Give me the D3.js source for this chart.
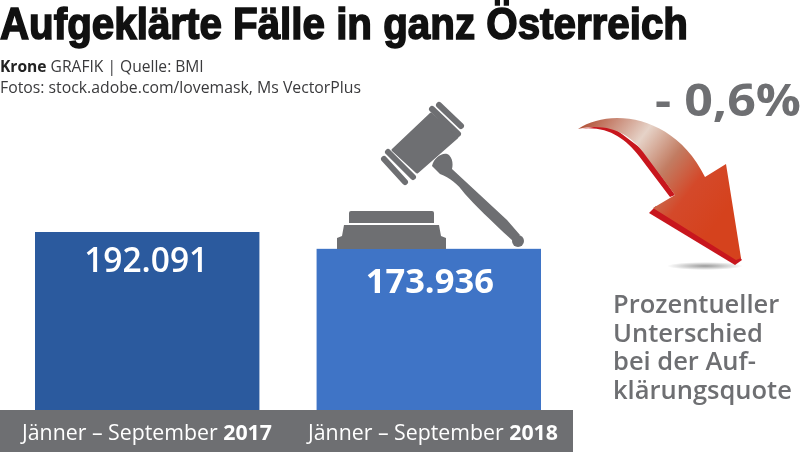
<!DOCTYPE html>
<html>
<head>
<meta charset="utf-8">
<script src="https://cdn.jsdelivr.net/npm/d3@7"></script>
<style>
  html, body { margin: 0; padding: 0; background: #fff; overflow: hidden; }
  svg { display: block; filter: blur(0.4px); }
  text { font-family: "Open Sans", "Noto Sans", sans-serif; }
</style>
</head>
<body>
<svg></svg>
<script>
const width = 800;
const height = 452;

const periods = ["Jänner – September ", "Jänner – September "];
const years = ["2017", "2018"];
const values = [192091, 173936];
const valueLabels = ["192.091", "173.936"];
const barColors = ["#2b5a9e", "#3f74c6"];
const noteLines = ["Prozentueller", "Unterschied", "bei der Auf-", "klärungsquote"];

const grey = "#6e6f72";
const baseline = 410;

const svg = d3.select("svg")
    .attr("width", width)
    .attr("height", height);

const xScale = d3.scaleBand()
  .domain(years)
  .range([35, 541])
  .paddingInner(0.203);

const yScale = d3.scaleLinear()
  .domain([0, 192091])
  .range([baseline, 232]);

// labels under the bars are not quite centred on them
const labelX = d3.scalePoint()
  .domain(years)
  .range([147, 433]);

const defs = svg.append("defs");

const arrowGrad = defs.append("linearGradient")
    .attr("id", "arrowGrad")
    .attr("gradientUnits", "userSpaceOnUse")
    .attr("x1", 585).attr("y1", 125)
    .attr("x2", 715).attr("y2", 225);
[[0, "#b5583f"], [0.32, "#e6d3c8"], [0.55, "#c27c62"], [0.75, "#d4492a"], [1, "#d5421d"]]
  .forEach(s => arrowGrad.append("stop").attr("offset", s[0]).attr("stop-color", s[1]));

const shadowGrad = defs.append("radialGradient").attr("id", "shadowGrad");
shadowGrad.append("stop").attr("offset", 0).attr("stop-color", "#9a9a9a");
shadowGrad.append("stop").attr("offset", 1).attr("stop-color", "#fff");

// title
svg.append("text")
    .attr("x", 0)
    .attr("y", 39)
    .attr("textLength", 688)
    .attr("lengthAdjust", "spacingAndGlyphs")
    .style("font-family", "'Liberation Sans', sans-serif")
    .style("font-size", "45px")
    .style("font-weight", 700)
    .style("stroke", "#111")
    .style("stroke-width", 1.6)
    .attr("fill", "#111")
    .text("Aufgeklärte Fälle in ganz Österreich");

// source lines
const source = svg.append("text")
    .attr("x", 0)
    .attr("y", 72)
    .style("font-size", "15.6px")
    .attr("fill", "#3a3a3c");
source.append("tspan").style("font-weight", 700).attr("fill", "#222").text("Krone ");
source.append("tspan").text("GRAFIK | Quelle: BMI");

svg.append("text")
    .attr("x", 0)
    .attr("y", 93)
    .style("font-size", "15.8px")
    .attr("fill", "#3a3a3c")
    .text("Fotos: stock.adobe.com/lovemask, Ms VectorPlus");

// bars
svg.selectAll(".bar")
  .data(years)
  .enter()
  .append("rect")
    .attr("class", "bar")
    .attr("x", d => xScale(d))
    .attr("y", (d, i) => yScale(values[i]))
    .attr("width", xScale.bandwidth())
    .attr("height", (d, i) => baseline - yScale(values[i]))
    .attr("fill", (d, i) => barColors[i]);

svg.selectAll(".value")
  .data(years)
  .enter()
  .append("text")
    .attr("class", "value")
    .attr("x", (d, i) => xScale(d) + xScale.bandwidth() / 2 + (i ? 1 : -1))
    .attr("y", (d, i) => yScale(values[i]) + (i ? 44 : 40))
    .attr("text-anchor", "middle")
    .style("font-size", (d, i) => i ? "34.5px" : "33.5px")
    .style("font-weight", (d, i) => i ? 700 : 600)
    .attr("fill", "#fff")
    .text((d, i) => valueLabels[i]);

// grey band with period labels
svg.append("rect")
    .attr("x", 0)
    .attr("y", baseline)
    .attr("width", 573)
    .attr("height", height - baseline)
    .attr("fill", grey);

const periodText = svg.selectAll(".period")
  .data(years)
  .enter()
  .append("text")
    .attr("class", "period")
    .attr("x", d => labelX(d))
    .attr("y", 440)
    .attr("text-anchor", "middle")
    .style("font-size", "21.3px")
    .attr("fill", "#fff");
periodText.append("tspan").text((d, i) => periods[i]);
periodText.append("tspan").style("font-weight", 700).text(d => d);

// gavel
const gavel = svg.append("g").attr("fill", grey).attr("stroke", grey);
gavel.append("path")
    .attr("stroke-width", 3)
    .attr("stroke-linejoin", "round")
    .attr("d", "M431,114 L457,137 L417,172 L393,150 Z");
[[[439, 105], [461, 126]], [[432, 109], [458, 134]], [[384, 159], [405, 182]], [[388, 152], [413, 177]]]
  .forEach(l => gavel.append("line")
    .attr("x1", l[0][0]).attr("y1", l[0][1])
    .attr("x2", l[1][0]).attr("y2", l[1][1])
    .attr("stroke-width", 6)
    .attr("stroke-linecap", "round"));
gavel.append("path")
    .attr("stroke", "none")
    .attr("d", "M432,166 C434,157 444,151 449,155 C453,159 453,165 452,169 L507,220 L520,235 L513,241 C490,220 475,205 465,194 C457,183 450,178 440,174 Z");
gavel.append("circle").attr("cx", 518).attr("cy", 241).attr("r", 6).attr("stroke", "none");
gavel.append("path")
    .attr("stroke", "none")
    .attr("d", "M349,213 Q349,211 351,211 L432,211 Q434,211 434,213 L434,223 L349,223 Z");
gavel.append("path")
    .attr("stroke", "none")
    .attr("d", "M344,225 L439,225 L441,236 L446,238 L446,249 L337,249 L337,238 L342,236 Z");

// arrow
svg.append("ellipse")
    .attr("cx", 705).attr("cy", 266)
    .attr("rx", 38).attr("ry", 4)
    .attr("fill", "url(#shadowGrad)");
svg.append("path")
    .attr("fill", "#c8161d")
    .attr("d", "M578,129 C607,125 625,138 639,156 L670,197 L675,195 L643,150 L610,125 Z");
svg.append("path")
    .attr("fill", "#c8161d")
    .attr("d", "M649,213 L735,265 L742,260 L738,254 L656,206 Z");
svg.append("path")
    .attr("fill", "url(#arrowGrad)")
    .attr("d", "M578,129 C610,107 675,115 705,177 L726,164 L741,258 L736,260 L653,208 L675,195 L643,152 C630,135 610,122 578,129 Z");

// percent and note
svg.append("text")
    .attr("x", 655)
    .attr("y", 116)
    .attr("textLength", 146)
    .attr("lengthAdjust", "spacingAndGlyphs")
    .style("font-size", "44px")
    .style("font-weight", 700)
    .attr("fill", grey)
    .text("- 0,6%");

svg.selectAll(".note")
  .data(noteLines)
  .enter()
  .append("text")
    .attr("class", "note")
    .attr("x", 613)
    .attr("y", (d, i) => 313 + i * 28.5)
    .style("font-size", "25.5px")
    .style("font-weight", 600)
    .attr("fill", grey)
    .text(d => d);
</script>
</body>
</html>
